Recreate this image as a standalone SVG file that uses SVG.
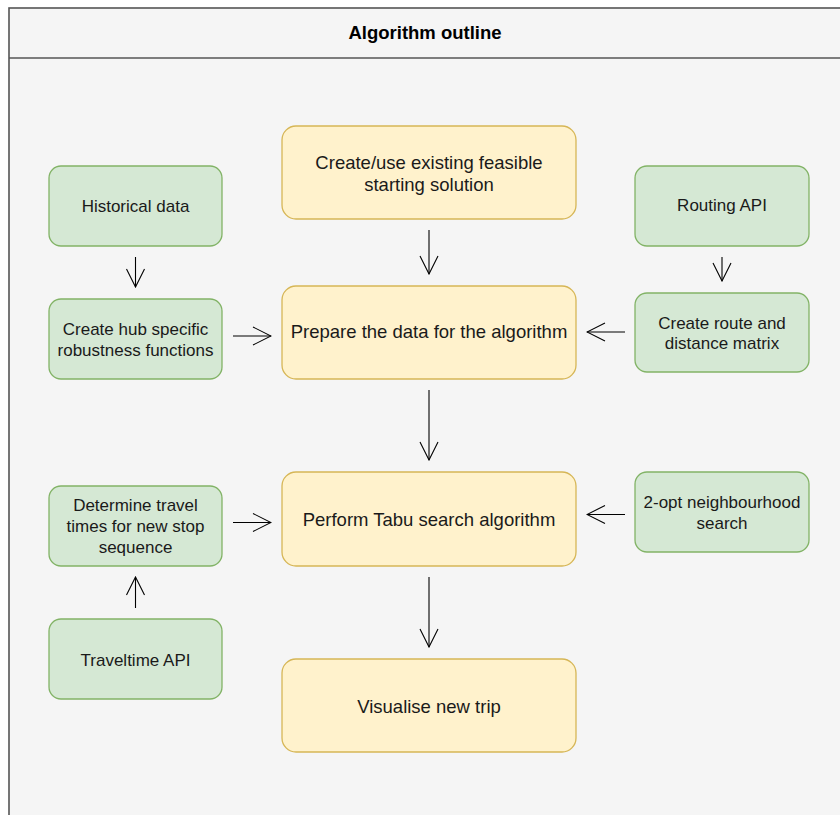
<svg xmlns="http://www.w3.org/2000/svg" width="840" height="815" viewBox="0 0 840 815">
<style>
.green{fill:#d5e8d4;stroke:#82b366;stroke-width:1.3}
.yellow{fill:#fff2cc;stroke:#d6b656;stroke-width:1.3}
.t{font-family:"Liberation Sans",Arial,sans-serif;fill:#1a1a1a;text-anchor:middle}
.gs{font-size:17px}
.ys{font-size:18.5px}
.title{font-size:18.5px;font-weight:bold;fill:#000}
.edge{fill:none;stroke:#000;stroke-width:1.1}
</style>
<defs>
<marker id="open" viewBox="0 0 20 20" refX="19" refY="10" markerWidth="20" markerHeight="20" markerUnits="userSpaceOnUse" orient="auto">
<path d="M1,1 L19,10 L1,19" fill="none" stroke="#000" stroke-width="1.1"/>
</marker>
</defs>
<rect x="0" y="0" width="840" height="815" fill="#ffffff"/>
<g id="container">
<rect x="9" y="8" width="840" height="820" fill="#f5f5f5" stroke="#555" stroke-width="1.6"/>
<line x1="9" y1="58" x2="849" y2="58" stroke="#555" stroke-width="1.6"/>
<text class="t title" x="425" y="38.5">Algorithm outline</text>
</g>
<g id="historical">
<rect class="green" x="49" y="166" width="173" height="80" rx="12"/>
<text class="t gs" x="135.5" y="212">Historical data</text>
</g>
<g id="hub">
<rect class="green" x="49" y="299" width="173" height="80" rx="12"/>
<text class="t gs" x="135.5" y="335">Create hub specific</text>
<text class="t gs" x="135.5" y="355.5">robustness functions</text>
</g>
<g id="start">
<rect class="yellow" x="282" y="126" width="294" height="93" rx="14"/>
<text class="t ys" x="429" y="169">Create/use existing feasible</text>
<text class="t ys" x="429" y="191">starting solution</text>
</g>
<g id="prepare">
<rect class="yellow" x="282" y="286" width="294" height="93" rx="14"/>
<text class="t ys" x="429" y="338">Prepare the data for the algorithm</text>
</g>
<g id="routing">
<rect class="green" x="635" y="166" width="174" height="80" rx="12"/>
<text class="t gs" x="722" y="211">Routing API</text>
</g>
<g id="route">
<rect class="green" x="635" y="293" width="174" height="79" rx="12"/>
<text class="t gs" x="722" y="328.5">Create route and</text>
<text class="t gs" x="722" y="349">distance matrix</text>
</g>
<g id="twoopt">
<rect class="green" x="635" y="472" width="174" height="80" rx="12"/>
<text class="t gs" x="722" y="508">2-opt neighbourhood</text>
<text class="t gs" x="722" y="529">search</text>
</g>
<g id="determine">
<rect class="green" x="49" y="486" width="173" height="80" rx="12"/>
<text class="t gs" x="135.5" y="511">Determine travel</text>
<text class="t gs" x="135.5" y="532">times for new stop</text>
<text class="t gs" x="135.5" y="552.5">sequence</text>
</g>
<g id="traveltime">
<rect class="green" x="49" y="619" width="173" height="80" rx="12"/>
<text class="t gs" x="135.5" y="665.5">Traveltime API</text>
</g>
<g id="tabu">
<rect class="yellow" x="282" y="472" width="294" height="94" rx="14"/>
<text class="t ys" x="429" y="526">Perform Tabu search algorithm</text>
</g>
<g id="visualise">
<rect class="yellow" x="282" y="659" width="294" height="93" rx="14"/>
<text class="t ys" x="429" y="712.5">Visualise new trip</text>
</g>
<g id="connectors">
<path class="edge" d="M135.5,257 L135.5,287" marker-end="url(#open)"/>
<path class="edge" d="M429,230 L429,274" marker-end="url(#open)"/>
<path class="edge" d="M233,336 L271,336" marker-end="url(#open)"/>
<path class="edge" d="M625,332 L587,332" marker-end="url(#open)"/>
<path class="edge" d="M722,257 L722,281" marker-end="url(#open)"/>
<path class="edge" d="M429,390 L429,460" marker-end="url(#open)"/>
<path class="edge" d="M429,577 L429,647" marker-end="url(#open)"/>
<path class="edge" d="M233,522.5 L271,522.5" marker-end="url(#open)"/>
<path class="edge" d="M135.5,608 L135.5,577" marker-end="url(#open)"/>
<path class="edge" d="M625,514.5 L587,514.5" marker-end="url(#open)"/>
</g>
</svg>
